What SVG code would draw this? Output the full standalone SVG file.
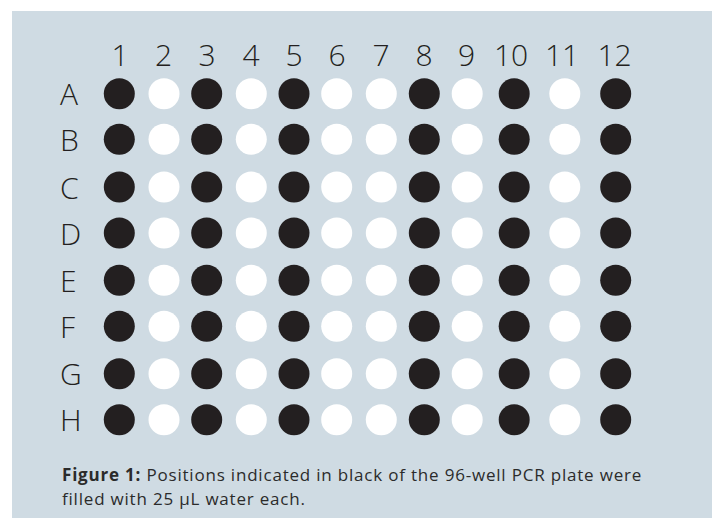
<svg xmlns="http://www.w3.org/2000/svg" width="712" height="518" viewBox="0 0 712 518">
<style>
.bg{fill:#cfdbe3}
.k{fill:#231f20}
.w{fill:#ffffff}
.lbl{font-family:"Open Sans","Noto Sans",sans-serif;font-size:30px;fill:#231f20;font-weight:300}
.col{text-anchor:middle}
.cap{font-family:"Open Sans","Noto Sans",sans-serif;font-size:17px;letter-spacing:0.8px;fill:#2b2b2b}
.b{font-weight:700}
</style>
<rect x="0" y="0" width="712" height="518" fill="#ffffff"/>
<rect class="bg" x="12" y="11" width="700" height="507"/>
<g id="col-labels">
<text class="lbl col" x="120" y="66">1</text>
<text class="lbl col" x="163.5" y="66">2</text>
<text class="lbl col" x="207" y="66">3</text>
<text class="lbl col" x="251" y="66">4</text>
<text class="lbl col" x="294" y="66">5</text>
<text class="lbl col" x="337" y="66">6</text>
<text class="lbl col" x="381" y="66">7</text>
<text class="lbl col" x="424" y="66">8</text>
<text class="lbl col" x="466.5" y="66">9</text>
<text class="lbl col" x="511" y="66">10</text>
<text class="lbl col" x="562" y="66">11</text>
<text class="lbl col" x="614.5" y="66">12</text>
</g>
<g id="row-labels">
<text class="lbl" x="60" y="105">A</text>
<text class="lbl" x="60" y="150.5">B</text>
<text class="lbl" x="60" y="198.5">C</text>
<text class="lbl" x="60" y="244.5">D</text>
<text class="lbl" x="60" y="291.5">E</text>
<text class="lbl" x="60" y="337.5">F</text>
<text class="lbl" x="60" y="385">G</text>
<text class="lbl" x="60" y="431">H</text>
</g>
<defs>
<g id="row">
<circle class="k" cx="119.3" cy="0" r="15.5"/>
<circle class="w" cx="164" cy="0" r="15.5"/>
<circle class="k" cx="206.7" cy="0" r="15.5"/>
<circle class="w" cx="251.3" cy="0" r="15.5"/>
<circle class="k" cx="294" cy="0" r="15.5"/>
<circle class="w" cx="336.7" cy="0" r="15.5"/>
<circle class="w" cx="381.3" cy="0" r="15.5"/>
<circle class="k" cx="424.3" cy="0" r="15.5"/>
<circle class="w" cx="467.2" cy="0" r="15.5"/>
<circle class="k" cx="514.2" cy="0" r="15.5"/>
<circle class="w" cx="564.8" cy="0" r="15.5"/>
<circle class="k" cx="615.7" cy="0" r="15.5"/>
</g>
</defs>
<g id="row-A"><use href="#row" y="93.7"/></g>
<g id="row-B"><use href="#row" y="139.3"/></g>
<g id="row-C"><use href="#row" y="187"/></g>
<g id="row-D"><use href="#row" y="233"/></g>
<g id="row-E"><use href="#row" y="280.3"/></g>
<g id="row-F"><use href="#row" y="326.3"/></g>
<g id="row-G"><use href="#row" y="373.7"/></g>
<g id="row-H"><use href="#row" y="419.7"/></g>
<g id="caption">
<text class="cap" x="62" y="481"><tspan class="b">Figure 1:</tspan> Positions indicated in black of the 96-well PCR plate were</text>
<text class="cap" x="62" y="505">filled with 25 µL water each.</text>
</g>
</svg>
